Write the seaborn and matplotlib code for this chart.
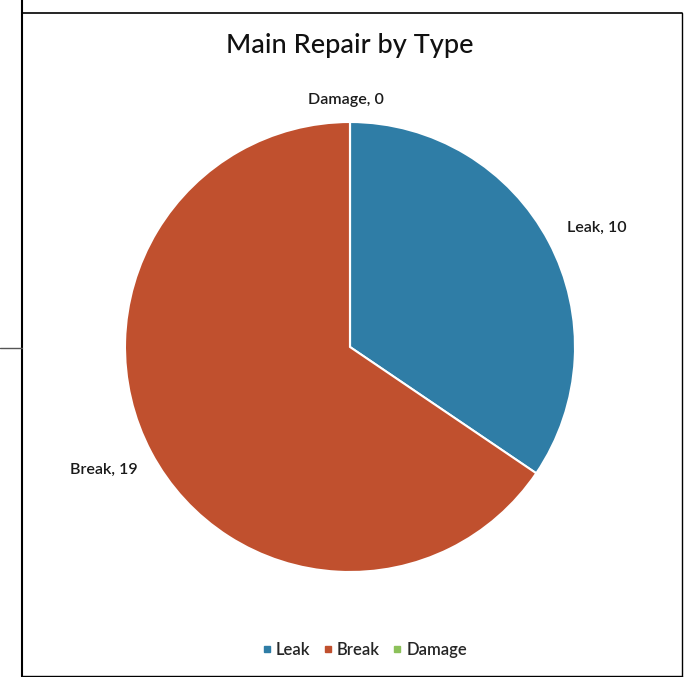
import matplotlib
matplotlib.use("Agg")
import matplotlib.pyplot as plt
import seaborn as sns
import numpy as np
from matplotlib.lines import Line2D

categories = ["Leak", "Break", "Damage"]
values = [10, 19, 0]
colors = ["#2F7DA6", "#C0502E", "#8CC15A"]
title = "Main Repair by Type"

sns.set_theme(style="white")
plt.rcParams["font.family"] = ["Lato", "DejaVu Sans"]

W, H = 685, 677
fig = plt.figure(figsize=(W / 100, H / 100), dpi=100)
fig.patch.set_facecolor("white")

cx, cy, r = 350, 347, 225
half = 300
ax = fig.add_axes([(cx - half) / W, (H - cy - half) / H, 2 * half / W, 2 * half / H])
wedges, texts = ax.pie(values, colors=colors, startangle=90, counterclock=False,
                       labels=[f"{c}, {v}" for c, v in zip(categories, values)],
                       wedgeprops=dict(edgecolor="white", linewidth=1.5),
                       textprops=dict(fontsize=11.5, color="#1a1a1a", fontweight="semibold"))
ax.set_xlim(-half / r, half / r)
ax.set_ylim(-half / r, half / r)
ax.set_aspect("equal")
ax.axis("off")

# place data labels (in units of the pie radius)
label_pos = [(1.098, 0.53), (-1.093, -0.547), (-0.02, 1.098)]
for t, (lx, ly) in zip(texts, label_pos):
    t.set_position((lx, ly))
    t.set_ha("center")
    t.set_va("center")

fig.text(cx / W, 1 - 45 / H, title, ha="center", va="center", fontsize=19.5, color="#111111",
         fontweight="medium")

handles = [Line2D([], [], marker="s", linestyle="", markersize=5, color=c) for c in colors]
fig.legend(handles, categories, loc="center", bbox_to_anchor=(364 / W, 1 - 650 / H), ncol=3,
           frameon=False, handletextpad=0.2, columnspacing=0.7, handlelength=0.7,
           prop=dict(size=12, weight="semibold"))

# scanned frame lines
def px_line(x0, y0, x1, y1, color="black", lw=1.5):
    fig.add_artist(Line2D([x0 / W, x1 / W], [1 - y0 / H, 1 - y1 / H], color=color, lw=lw,
                          transform=fig.transFigure))

px_line(22, 0, 22, 677)
px_line(22, 13, 682, 13, lw=1.2)
px_line(682, 13, 682, 677, lw=1.0)
px_line(22, 676, 682, 676, lw=1.0)
px_line(0, 348, 22, 348, color="#555555", lw=1.0)

fig.savefig("out.png", dpi=100, facecolor="white")
